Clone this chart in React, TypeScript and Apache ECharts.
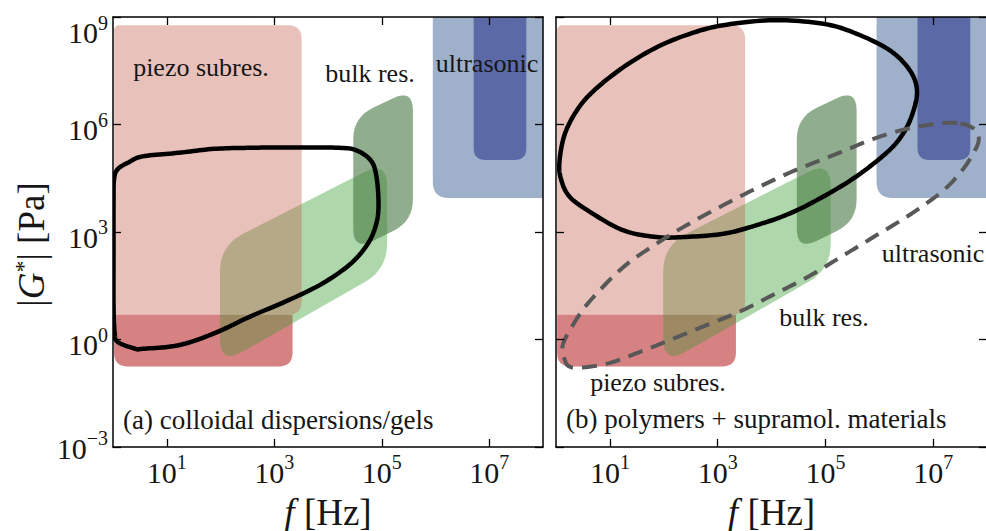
import React, { useEffect, useRef } from 'react';
import * as echarts from 'echarts';

// All coordinates are [log10 f (Hz), log10 |G*| (Pa)]
const xTickExponents = [1, 3, 5, 7];
const yTickExponents = [-3, 0, 3, 6, 9];

// instrument ranges (polygon corners)
const piezoPink = [[0.02, 8.77], [3.51, 8.77], [3.51, 0.69], [0.02, 0.69]];
const piezoRed = [[0.02, 0.69], [3.34, 0.69], [3.34, -0.75], [0.02, -0.75]];
const bulkLight = [[1.99, 2.62], [5.1, 5.0], [5.1, 1.96], [1.99, -0.7]];
const bulkDark = [[4.47, 6.2], [5.58, 7.0], [5.58, 3.3], [4.47, 2.48]];
const ultraLight = [[5.95, 9.6], [8.6, 9.6], [8.6, 3.95], [5.95, 3.95]];
const ultraDark = [[6.71, 9.6], [7.69, 9.6], [7.69, 5.01], [6.71, 5.01]];

// material regions (closed outlines)
const colloidOutline = [
  [0.02, 4.47], [0.086, 4.75], [0.286, 4.94], [0.551, 5.11], [1.22, 5.21], [1.88, 5.32], [2.55, 5.35],
  [3.21, 5.36], [4.21, 5.35], [4.54, 5.27], [4.8, 4.99], [4.9, 4.56], [4.94, 3.81], [4.9, 3.24],
  [4.74, 2.67], [4.41, 2.1], [3.87, 1.54], [3.21, 1.06], [2.55, 0.64], [1.88, 0.17], [1.22, -0.16],
  [0.55, -0.26], [0.42, -0.26], [0.09, -0.07], [0.03, 0.21], [0.01, 0.97], [0.01, 2.4], [0.01, 3.81],
];
const polymerOutline = [
  [0.063, 4.94], [0.156, 5.7], [0.373, 6.36], [0.684, 6.92], [1.242, 7.59], [1.862, 8.15], [2.483, 8.53],
  [3.103, 8.77], [4.033, 8.91], [4.964, 8.81], [5.584, 8.53], [6.205, 8.06], [6.577, 7.49], [6.701, 6.92],
  [6.608, 6.26], [6.422, 5.7], [6.143, 5.22], [5.584, 4.56], [4.964, 3.99], [4.344, 3.52], [3.723, 3.19],
  [3.103, 2.95], [2.359, 2.86], [1.862, 2.86], [1.242, 3.05], [0.622, 3.57], [0.249, 3.99], [0.094, 4.47],
];
const supramolOutline = [
  [7.507, 6.03], [7.755, 5.88], [7.848, 5.6], [7.755, 5.22], [7.507, 4.66], [7.135, 4.09], [6.515, 3.43],
  [5.894, 2.86], [5.274, 2.29], [4.654, 1.73], [4.034, 1.25], [3.413, 0.78], [2.793, 0.4], [2.172, 0.02],
  [1.552, -0.35], [0.932, -0.68], [0.312, -0.78], [0.156, -0.54], [0.125, -0.16], [0.312, 0.4],
  [0.622, 1.06], [1.242, 2.01], [1.862, 2.67], [2.483, 3.24], [3.413, 3.99], [4.344, 4.66], [5.274, 5.22],
  [5.894, 5.6], [6.515, 5.88], [7.135, 6.03],
];

const panelACaption = '(a) colloidal dispersions/gels';
const panelBCaption = '(b) polymers + supramol. materials';
const labelPiezo = 'piezo subres.';
const labelBulk = 'bulk res.';
const labelUltra = 'ultrasonic';

const F = 'Liberation Serif';
const INK = '#161616';

function roundCorners(pts: number[][], radii: number[], steps = 8): number[][] {
  const n = pts.length;
  const out: number[][] = [];
  for (let i = 0; i < n; i++) {
    const prev = pts[(i - 1 + n) % n];
    const cur = pts[i];
    const next = pts[(i + 1) % n];
    const d1x = prev[0] - cur[0], d1y = prev[1] - cur[1];
    const l1 = Math.hypot(d1x, d1y) || 1;
    const d2x = next[0] - cur[0], d2y = next[1] - cur[1];
    const l2 = Math.hypot(d2x, d2y) || 1;
    const r = Math.min(radii[i] || 0, l1 / 2, l2 / 2);
    if (r <= 0) {
      out.push(cur);
      continue;
    }
    const ax = cur[0] + (d1x / l1) * r, ay = cur[1] + (d1y / l1) * r;
    const bx = cur[0] + (d2x / l2) * r, by = cur[1] + (d2y / l2) * r;
    for (let s = 0; s <= steps; s++) {
      const t = s / steps, u = 1 - t;
      out.push([u * u * ax + 2 * u * t * cur[0] + t * t * bx, u * u * ay + 2 * u * t * cur[1] + t * t * by]);
    }
  }
  return out;
}

function closedSpline(pts: number[][], steps = 12): number[][] {
  const n = pts.length;
  const out: number[][] = [];
  for (let i = 0; i < n; i++) {
    const p0 = pts[(i - 1 + n) % n], p1 = pts[i], p2 = pts[(i + 1) % n], p3 = pts[(i + 2) % n];
    for (let s = 0; s < steps; s++) {
      const t = s / steps, t2 = t * t, t3 = t2 * t;
      out.push([0, 1].map(
        (k) =>
          0.5 *
          (2 * p1[k] + (-p0[k] + p2[k]) * t + (2 * p0[k] - 5 * p1[k] + 4 * p2[k] - p3[k]) * t2 +
            (-p0[k] + 3 * p1[k] - 3 * p2[k] + p3[k]) * t3)
      ));
    }
  }
  out.push(out[0]);
  return out;
}

function clipOf(params: any) {
  const cs = params.coordSys;
  return { type: 'rect', shape: { x: cs.x, y: cs.y, width: cs.width, height: cs.height } };
}

function regionSeries(grid: number, pts: number[][], radii: number[], fill: string, z: number) {
  return {
    type: 'custom',
    coordinateSystem: 'cartesian2d',
    xAxisIndex: grid * 2,
    yAxisIndex: grid * 2,
    data: [[0, 0]],
    silent: true,
    clip: true,
    z,
    renderItem: (params: any, api: any) => {
      const px = pts.map((p) => api.coord(p));
      return {
        type: 'group',
        clipPath: clipOf(params),
        children: [{ type: 'polygon', shape: { points: roundCorners(px, radii) }, style: { fill } }],
      };
    },
  };
}

function outlineSeries(grid: number, pts: number[][], stroke: string, width: number, dash: number[] | null, z: number) {
  return {
    type: 'custom',
    coordinateSystem: 'cartesian2d',
    xAxisIndex: grid * 2,
    yAxisIndex: grid * 2,
    data: [[0, 0]],
    silent: true,
    clip: true,
    z,
    renderItem: (params: any, api: any) => {
      const px = pts.map((p) => api.coord(p));
      return {
        type: 'group',
        clipPath: clipOf(params),
        children: [
          {
            type: 'polyline',
            shape: { points: closedSpline(px) },
            style: { fill: null, stroke, lineWidth: width, lineDash: dash || undefined, lineJoin: 'round', lineCap: 'butt' },
          },
        ],
      };
    },
  };
}

// Tick-label rich tokens: line box 40px; base '10' aligned to bottom, exponent to top.
const baseTok = { fontSize: 30, fontFamily: F, color: INK, lineHeight: 40, verticalAlign: 'bottom' };
const supTok = { fontSize: 20, fontFamily: F, color: INK, lineHeight: 20, verticalAlign: 'top' };
const tickRich = {
  b: { ...baseTok, height: 30 },
  s: { ...supTok, height: 30 },
  bt: { ...baseTok, height: 10 },
  st: { ...supTok, height: 51 },
  bb: { ...baseTok, height: 38 },
  sb: { ...supTok, height: 22 },
};
const expText = (v: number) => (v < 0 ? '\u2212' + -v : String(v));
const xTickFmt = (v: number) => `{b|10}{s|${expText(v)}}`;
const yTickFmt = (v: number) => {
  const k = v >= 9 ? 't' : v <= -3 ? 'b' : '';
  return `{b${k}|10}{s${k}|${expText(v)}}`;
};

const nameRich = {
  i: { fontSize: 37, fontFamily: F, fontStyle: 'italic', color: INK, lineHeight: 40 },
  s: { fontSize: 24, fontFamily: F, color: INK, lineHeight: 24, verticalAlign: 'top' },
};

const lineStyle = { color: '#000', width: 1.5 };
const tickStyle = { color: '#000', width: 1.3 };

function xAxes(grid: number) {
  return [
    {
      type: 'value', gridIndex: grid, min: 0, max: 8, position: 'bottom', z: 10,
      axisLine: { show: true, onZero: false, lineStyle },
      axisTick: { show: true, inside: true, length: 8, customValues: xTickExponents, lineStyle: tickStyle },
      axisLabel: { show: true, customValues: xTickExponents, formatter: xTickFmt, rich: tickRich, margin: 0 },
      splitLine: { show: false },
      name: '{i|f} [Hz]', nameLocation: 'middle', nameGap: 45,
      nameTextStyle: { fontSize: 37, fontFamily: F, color: INK, lineHeight: 40, rich: nameRich },
    },
    {
      type: 'value', gridIndex: grid, min: 0, max: 8, position: 'top', z: 10,
      axisLine: { show: true, onZero: false, lineStyle },
      axisTick: { show: true, inside: true, length: 8, customValues: xTickExponents, lineStyle: tickStyle },
      axisLabel: { show: false },
      splitLine: { show: false },
    },
  ];
}

function yAxes(grid: number) {
  const left: any = {
    type: 'value', gridIndex: grid, min: -3, max: 9, interval: 3, position: 'left', z: 10,
    axisLine: { show: true, onZero: false, lineStyle },
    axisTick: { show: true, inside: true, length: 8, lineStyle: tickStyle },
    axisLabel: { show: grid === 0, formatter: yTickFmt, rich: tickRich, margin: 5 },
    splitLine: { show: false },
  };
  if (grid === 0) {
    left.name = '|{i|G}{s|*}| [Pa]';
    left.nameLocation = 'middle';
    left.nameGap = 62;
    left.nameTextStyle = { fontSize: 37, fontFamily: F, color: INK, lineHeight: 40, rich: nameRich, padding: [0, 25, 0, 0] };
  }
  return [
    left,
    {
      type: 'value', gridIndex: grid, min: -3, max: 9, interval: 3, position: 'right', z: 10,
      axisLine: { show: true, onZero: false, lineStyle },
      axisTick: { show: true, inside: true, length: 8, lineStyle: tickStyle },
      axisLabel: { show: false },
      splitLine: { show: false },
    },
  ];
}

function panelSeries(grid: number) {
  return [
    regionSeries(grid, piezoRed, [0, 0, 14, 14], 'rgb(255,173,186)', 1),
    regionSeries(grid, bulkLight, [26, 26, 26, 26], 'rgba(120,190,115,0.6)', 2),
    regionSeries(grid, bulkDark, [22, 22, 22, 22], 'rgba(73,123,68,0.61)', 3),
    regionSeries(grid, piezoRed, [0, 0, 14, 14], 'rgba(118,32,0,0.3)', 4),
    regionSeries(grid, piezoPink, [6, 14, 14, 0], 'rgba(195,94,79,0.386)', 4),
    regionSeries(grid, ultraLight, [0, 0, 0, 16], '#9fb0cb', 4),
    regionSeries(grid, ultraDark, [0, 0, 12, 12], '#5b69a7', 5),
  ];
}

function txt(text: string, x: number, y: number, size: number, align = 'center') {
  return {
    type: 'text', x, y, z: 20, silent: true,
    style: {
      text,
      fontSize: size,
      fontFamily: F,
      fill: INK,
      align,
      verticalAlign: 'middle',
    },
  };
}

export default function App() {
  const ref = useRef<HTMLDivElement>(null);
  useEffect(() => {
    if (!ref.current) return;
    const chart = echarts.init(ref.current, undefined, { renderer: 'svg' });
    chart.setOption({
      animation: false,
      backgroundColor: '#fff',
      grid: [
        { left: 113, top: 17, width: 430, height: 430, containLabel: false, outerBoundsMode: 'none' },
        { left: 556, top: 17, width: 431, height: 430, containLabel: false, outerBoundsMode: 'none' },
      ],
      xAxis: [...xAxes(0), ...xAxes(1)],
      yAxis: [...yAxes(0), ...yAxes(1)],
      series: [
        ...panelSeries(0),
        outlineSeries(0, colloidOutline, '#000', 4.5, null, 6),
        ...panelSeries(1),
        outlineSeries(1, polymerOutline, '#000', 4.5, null, 6),
        outlineSeries(1, supramolOutline, '#585858', 4, [15, 9], 6),
      ],
      graphic: [
        txt(labelPiezo, 201, 67, 26),
        txt(labelBulk, 370, 73, 26),
        txt(labelUltra, 487, 63, 26),
        txt(panelACaption, 123, 420, 27, 'left'),
        txt(labelUltra, 933, 253, 26),
        txt(labelBulk, 824, 317, 26),
        txt(labelPiezo, 658, 382, 26),
        txt(panelBCaption, 566, 419, 27, 'left'),
      ],
    });
    return () => chart.dispose();
  }, []);
  return <div ref={ref} style={{ position: 'fixed', left: 0, top: 0, width: 986, height: 531, background: '#fff' }} />;
}
